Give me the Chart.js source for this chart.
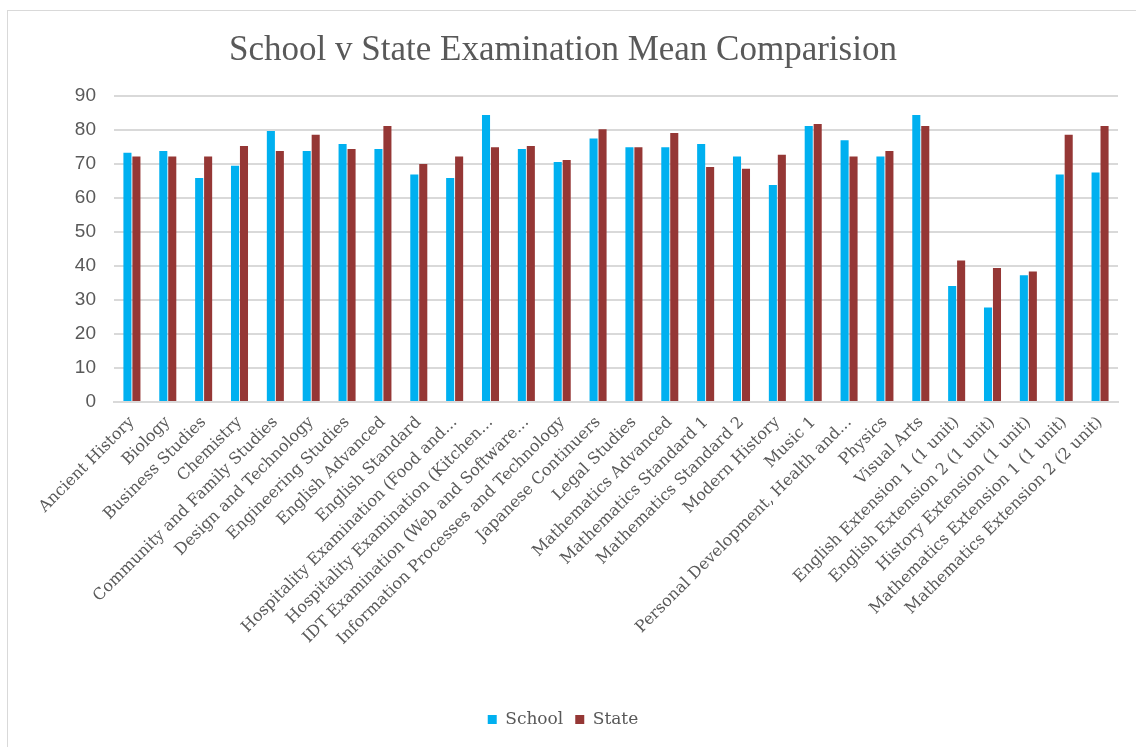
<!DOCTYPE html>
<html>
<head>
<meta charset="utf-8">
<script src="https://cdn.jsdelivr.net/npm/chart.js@4.4.1/dist/chart.umd.min.js"></script>
<style>
  html, body { margin: 0; padding: 0; background: #fff; }
  #frame {
    position: absolute; left: 7px; top: 10px; width: 1129px; height: 737px;
    border-left: 1px solid #d9d9d9; border-top: 1px solid #d9d9d9;
  }
  #frame canvas { display: block; }
</style>
</head>
<body>
<div id="frame"><canvas id="chart" width="1128" height="736"></canvas></div>
<script>
// Matieres
const subjects = [
  'Ancient History', 'Biology', 'Business Studies', 'Chemistry',
  'Community and Family Studies', 'Design and Technology', 'Engineering Studies',
  'English Advanced', 'English Standard', 'Hospitality Examination (Food and...',
  'Hospitality Examination (Kitchen...', 'IDT Examination (Web and Software...',
  'Information Processes and Technology', 'Japanese Continuers', 'Legal Studies',
  'Mathematics Advanced', 'Mathematics Standard 1', 'Mathematics Standard 2',
  'Modern History', 'Music 1', 'Personal Development, Health and...', 'Physics',
  'Visual Arts', 'English Extension 1 (1 unit)', 'English Extension 2 (1 unit)',
  'History Extension (1 unit)', 'Mathematics Extension 1 (1 unit)',
  'Mathematics Extension 2 (2 unit)'
];

// Moyennes
const schoolMeans = [73.3, 73.8, 65.9, 69.5, 79.7, 73.8, 75.9, 74.4, 66.9, 65.9,
  84.4, 74.4, 70.6, 77.5, 74.9, 74.9, 75.9, 72.2, 63.8, 81.2, 77.0, 72.2, 84.4,
  34.1, 27.8, 37.3, 66.9, 67.5];
const stateMeans = [72.2, 72.2, 72.2, 75.3, 73.8, 78.6, 74.4, 81.2, 70.0, 72.2,
  74.9, 75.3, 71.2, 80.2, 74.9, 79.1, 69.1, 68.6, 72.7, 81.8, 72.2, 73.8, 81.2,
  41.6, 39.4, 38.4, 78.6, 81.2];

const yTicks = [0, 10, 20, 30, 40, 50, 60, 70, 80, 90];

const grey = '#595959';

new Chart(document.getElementById('chart'), {
  type: 'bar',
  data: {
    labels: subjects,
    datasets: [
      { label: 'School', data: schoolMeans, backgroundColor: '#00B0F0',
        categoryPercentage: 0.5, barPercentage: 0.9 },
      { label: 'State', data: stateMeans, backgroundColor: '#953735',
        categoryPercentage: 0.5, barPercentage: 0.9 }
    ]
  },
  options: {
    responsive: false,
    animation: false,
    layout: { padding: { left: 0, right: 18, top: 0, bottom: 9 } },
    plugins: {
      title: {
        display: true,
        text: 'School v State Examination Mean Comparision',
        color: grey,
        font: { family: 'Liberation Serif', size: 35, weight: 'normal' },
        padding: { top: 19, bottom: 24 }
      },
      legend: {
        position: 'bottom',
        labels: {
          color: grey,
          boxWidth: 9, boxHeight: 9,
          font: { family: 'DejaVu Serif', size: 17 },
          padding: 12
        }
      },
      tooltip: { enabled: false }
    },
    scales: {
      x: {
        grid: { display: false },
        border: { display: true, color: '#d9d9d9', width: 2 },
        ticks: {
          color: grey,
          maxRotation: 45, minRotation: 45,
          autoSkip: false,
          font: { family: 'DejaVu Serif', size: 16 }
        },
        afterFit: (scale) => { scale.height = 297; }
      },
      y: {
        min: 0, max: 90,
        afterBuildTicks: (scale) => { scale.ticks = yTicks.map(v => ({ value: v })); },
        grid: { color: '#d9d9d9', lineWidth: 2, drawTicks: false },
        border: { display: false },
        ticks: {
          color: grey,
          padding: 18,
          font: { family: 'Liberation Sans', size: 19 }
        },
        afterFit: (scale) => { scale.width = 106; }
      }
    }
  }
});
</script>
</body>
</html>
